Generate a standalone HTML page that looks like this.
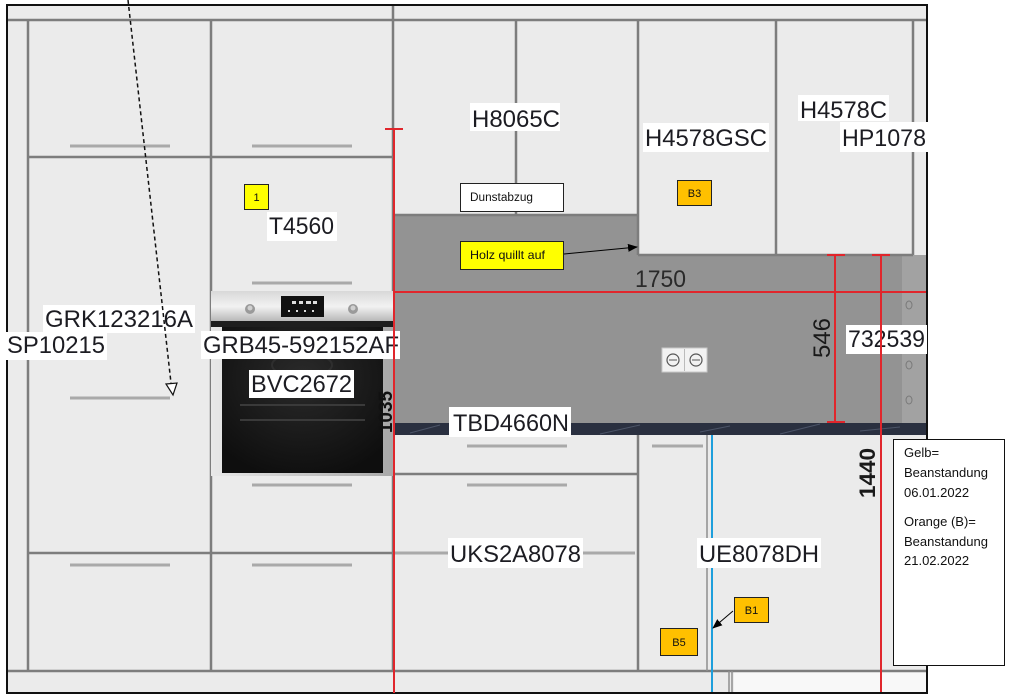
<!DOCTYPE html>
<html><head><meta charset="utf-8"><style>
html,body{margin:0;padding:0;background:#fff;width:1014px;height:698px;overflow:hidden}
svg{display:block}
.m{font-family:"Liberation Sans",Arial,sans-serif;font-size:24px;fill:#1c1c22}
.s{font-family:"Liberation Sans",Arial,sans-serif;fill:#111}
</style></head><body>
<svg width="1014" height="698" viewBox="0 0 1014 698" xmlns="http://www.w3.org/2000/svg">
<defs>
<linearGradient id="steel" x1="0" y1="0" x2="0" y2="1">
<stop offset="0" stop-color="#d8d8d8"/><stop offset="0.5" stop-color="#f2f2f2"/><stop offset="1" stop-color="#b4b4b4"/></linearGradient>
<linearGradient id="steelh" x1="0" y1="0" x2="1" y2="0">
<stop offset="0" stop-color="#e8e8e8"/><stop offset="0.5" stop-color="#c8c8c8"/><stop offset="1" stop-color="#a8a8a8"/></linearGradient>
<radialGradient id="door" cx="0.5" cy="0.35" r="0.7">
<stop offset="0" stop-color="#2a2a2a"/><stop offset="1" stop-color="#0e0e0e"/></radialGradient>
<marker id="ah" markerWidth="10" markerHeight="8" refX="9" refY="4" orient="auto" markerUnits="userSpaceOnUse">
<path d="M0,0 L10,4 L0,8 z" fill="#000"/></marker>
</defs>
<rect width="1014" height="698" fill="#fff"/>
<!-- cabinet body -->
<rect x="7" y="5" width="920" height="688" fill="#ebebeb"/>
<!-- backsplash -->
<rect x="394" y="215" width="244" height="208" fill="#939393"/>
<rect x="638" y="255" width="265" height="168" fill="#939393"/>
<rect x="902" y="255" width="25" height="168" fill="#a2a2a2"/>
<g fill="none" stroke="#7a7a7a" stroke-width="1">
<ellipse cx="909" cy="305" rx="3" ry="4"/><ellipse cx="909" cy="365" rx="3" ry="4"/><ellipse cx="909" cy="400" rx="3" ry="4"/>
</g>
<!-- countertop -->
<rect x="394" y="423" width="533" height="12" fill="#2a3040"/>
<g stroke="#5a6478" stroke-width="1" opacity="0.7">
<line x1="410" y1="433" x2="440" y2="425"/><line x1="480" y1="431" x2="520" y2="426"/><line x1="600" y1="434" x2="640" y2="425"/>
<line x1="700" y1="432" x2="730" y2="426"/><line x1="780" y1="434" x2="820" y2="424"/><line x1="860" y1="431" x2="900" y2="427"/>
</g>
<!-- plinth right white -->
<rect x="734" y="672" width="193" height="21" fill="#f8f8f8"/>
<!-- socket -->
<rect x="662" y="348" width="45" height="24" fill="#f2f2f2" stroke="#c8c8c8"/>
<line x1="684.5" y1="349" x2="684.5" y2="371" stroke="#bbb"/>
<g fill="none" stroke="#555" stroke-width="1.2"><circle cx="673" cy="360" r="6"/><circle cx="696" cy="360" r="6"/></g>
<g stroke="#555" stroke-width="1"><line x1="669" y1="360" x2="677" y2="360"/><line x1="692" y1="360" x2="700" y2="360"/></g>
<!-- structural lines -->
<g stroke="#7d7d7d" stroke-width="2.5" fill="none">
<line x1="7" y1="20" x2="927" y2="20"/>
<line x1="28" y1="20" x2="28" y2="671"/>
<line x1="211" y1="20" x2="211" y2="671"/>
<line x1="393" y1="5" x2="393" y2="671"/>
<line x1="28" y1="157" x2="393" y2="157"/>
<line x1="28" y1="553" x2="393" y2="553"/>
<line x1="7" y1="671" x2="927" y2="671"/>
<line x1="516" y1="20" x2="516" y2="215"/>
<line x1="638" y1="20" x2="638" y2="255"/>
<line x1="776" y1="20" x2="776" y2="255"/>
<line x1="913" y1="20" x2="913" y2="255"/>
<line x1="394" y1="215" x2="638" y2="215"/>
<line x1="638" y1="255" x2="913" y2="255"/>
<line x1="394" y1="474" x2="638" y2="474"/>
<line x1="638" y1="435" x2="638" y2="671"/>
</g>
<g stroke="#8e8e8e" stroke-width="1.5">
<line x1="707" y1="435" x2="707" y2="671"/>
<line x1="729" y1="671" x2="729" y2="693"/><line x1="732" y1="671" x2="732" y2="693"/>
</g>
<!-- handles -->
<g stroke="#a9a9a9" stroke-width="3">
<line x1="70" y1="146" x2="170" y2="146"/><line x1="252" y1="146" x2="352" y2="146"/>
<line x1="252" y1="283" x2="352" y2="283"/>
<line x1="70" y1="398" x2="170" y2="398"/>
<line x1="252" y1="485" x2="352" y2="485"/>
<line x1="70" y1="565" x2="170" y2="565"/><line x1="252" y1="565" x2="352" y2="565"/>
<line x1="467" y1="446" x2="567" y2="446"/><line x1="467" y1="485" x2="567" y2="485"/>
<line x1="394" y1="553" x2="635" y2="553"/>
<line x1="652" y1="446" x2="703" y2="446"/>
</g>
<!-- oven -->
<rect x="211" y="291" width="182" height="185" fill="url(#steelh)"/>
<rect x="211" y="291" width="182" height="31" fill="url(#steel)"/>
<circle cx="250" cy="309" r="5" fill="#9a9a9a"/><circle cx="250" cy="308" r="2.5" fill="#d0d0d0"/>
<circle cx="353" cy="309" r="5" fill="#9a9a9a"/><circle cx="353" cy="308" r="2.5" fill="#d0d0d0"/>
<rect x="281" y="296" width="43" height="21" fill="#111"/>
<g fill="#ddd"><rect x="292" y="301" width="4" height="3"/><rect x="299" y="301" width="4" height="3"/><rect x="306" y="301" width="5" height="3"/><rect x="313" y="301" width="4" height="3"/>
<rect x="288" y="310" width="2" height="2"/><rect x="296" y="310" width="2" height="2"/><rect x="304" y="310" width="2" height="2"/><rect x="312" y="310" width="2" height="2"/></g>
<rect x="211" y="321" width="182" height="6" fill="#1e1e1e"/>
<rect x="222" y="327" width="161" height="146" fill="url(#door)"/>
<g stroke="#3a3a3a" stroke-width="2" fill="none">
<line x1="240" y1="405" x2="365" y2="405"/><line x1="240" y1="420" x2="365" y2="420"/>
<ellipse cx="302" cy="365" rx="30" ry="12" stroke="#2e2e2e"/>
</g>
<!-- rotated small label near oven -->
<text class="s" font-size="19" font-weight="bold" transform="translate(392,412) rotate(-90)" text-anchor="middle">1035</text>
<!-- red dimension lines -->
<g stroke="#e0262c" stroke-width="2" fill="none">
<line x1="394" y1="292" x2="927" y2="292"/>
<line x1="927" y1="283" x2="927" y2="301"/>
<line x1="835" y1="255" x2="835" y2="422"/>
<line x1="827" y1="255" x2="845" y2="255"/><line x1="827" y1="422" x2="845" y2="422"/>
<line x1="881" y1="255" x2="881" y2="693"/>
<line x1="872" y1="255" x2="890" y2="255"/>
</g>
<!-- blue line -->
<line x1="712" y1="435" x2="712" y2="693" stroke="#1e9fdc" stroke-width="2"/>
<!-- frame -->
<rect x="7" y="5" width="920" height="688" fill="none" stroke="#111" stroke-width="2"/>
<!-- dimension texts -->
<text class="m" x="635" y="287" textLength="51" lengthAdjust="spacingAndGlyphs" style="fill:#2a2a2a">1750</text>
<text class="m" transform="translate(830,358) rotate(-90)" textLength="40" lengthAdjust="spacingAndGlyphs" style="fill:#1a1a1a">546</text>
<text class="m" font-weight="bold" transform="translate(875,498) rotate(-90)" textLength="50" lengthAdjust="spacingAndGlyphs" style="fill:#1a1a1a;font-size:22px">1440</text>
<!-- model labels -->
<g fill="#fff">
<rect x="470" y="103" width="90" height="28"/>
<rect x="643" y="123" width="126" height="29"/>
<rect x="798" y="95" width="91" height="26"/>
<rect x="840" y="122" width="88" height="30"/>
<rect x="267" y="212" width="70" height="29"/>
<rect x="43" y="305" width="152" height="28"/>
<rect x="5" y="332" width="102" height="28"/>
<rect x="201" y="331" width="199" height="28"/>
<rect x="249" y="370" width="105" height="28"/>
<rect x="449" y="407" width="122" height="30"/>
<rect x="448" y="538" width="135" height="30"/>
<rect x="697" y="538" width="124" height="30"/>
<rect x="846" y="325" width="81" height="29"/>
</g>
<text class="m" x="472" y="127" textLength="88" lengthAdjust="spacingAndGlyphs">H8065C</text>
<text class="m" x="645" y="146" textLength="122" lengthAdjust="spacingAndGlyphs">H4578GSC</text>
<text class="m" x="800" y="118" textLength="87" lengthAdjust="spacingAndGlyphs">H4578C</text>
<text class="m" x="842" y="146" textLength="84" lengthAdjust="spacingAndGlyphs">HP1078</text>
<text class="m" x="269" y="234" textLength="65" lengthAdjust="spacingAndGlyphs">T4560</text>
<text class="m" x="45" y="327" textLength="148" lengthAdjust="spacingAndGlyphs">GRK123216A</text>
<text class="m" x="7" y="353" textLength="98" lengthAdjust="spacingAndGlyphs">SP10215</text>
<text class="m" x="203" y="353" textLength="196" lengthAdjust="spacingAndGlyphs">GRB45-592152AF</text>
<text class="m" x="251" y="392" textLength="101" lengthAdjust="spacingAndGlyphs">BVC2672</text>
<text class="m" x="453" y="431" textLength="116" lengthAdjust="spacingAndGlyphs">TBD4660N</text>
<text class="m" x="450" y="562" textLength="131" lengthAdjust="spacingAndGlyphs">UKS2A8078</text>
<text class="m" x="699" y="562" textLength="120" lengthAdjust="spacingAndGlyphs">UE8078DH</text>
<text class="m" x="848" y="347" textLength="77" lengthAdjust="spacingAndGlyphs">732539</text>
<!-- red lines drawn over labels -->
<g stroke="#e0262c" stroke-width="2" fill="none">
<line x1="394" y1="129" x2="394" y2="693"/>
<line x1="385" y1="129" x2="403" y2="129"/>
<line x1="881" y1="325" x2="881" y2="354"/>
</g>
<!-- dashed arrow -->
<line x1="128" y1="0" x2="171" y2="383" stroke="#111" stroke-width="1.5" stroke-dasharray="4,3"/>
<path d="M166,384 L177,383 L173,395 z" fill="#fff" stroke="#111" stroke-width="1.2"/>
<!-- callouts -->
<rect x="244.5" y="184.5" width="24" height="25" fill="#ffff00" stroke="#222"/>
<text class="s" x="256.5" y="201" font-size="11" text-anchor="middle">1</text>
<rect x="460.5" y="183.5" width="103" height="28" fill="#fff" stroke="#222"/>
<text class="s" x="470" y="201" font-size="11.5" textLength="63" lengthAdjust="spacingAndGlyphs">Dunstabzug</text>
<rect x="460.5" y="241.5" width="103" height="28" fill="#ffff00" stroke="#222"/>
<text class="s" x="470" y="259" font-size="12" textLength="75" lengthAdjust="spacingAndGlyphs">Holz quillt auf</text>
<line x1="564" y1="254" x2="637" y2="247" stroke="#000" stroke-width="1" marker-end="url(#ah)"/>
<rect x="677.5" y="180.5" width="34" height="25" fill="#ffc000" stroke="#222"/>
<text class="s" x="694.5" y="197" font-size="11" text-anchor="middle">B3</text>
<rect x="734.5" y="597.5" width="34" height="25" fill="#ffc000" stroke="#222"/>
<text class="s" x="751.5" y="614" font-size="11" text-anchor="middle">B1</text>
<line x1="733" y1="611" x2="713" y2="628" stroke="#000" stroke-width="1" marker-end="url(#ah)"/>
<rect x="660.5" y="628.5" width="37" height="27" fill="#ffc000" stroke="#222"/>
<text class="s" x="679" y="646" font-size="11" text-anchor="middle">B5</text>
<!-- legend -->
<rect x="893.5" y="439.5" width="111" height="226" fill="#fff" stroke="#111"/>
<g class="s" font-size="13">
<text x="904" y="457">Gelb=</text>
<text x="904" y="477" textLength="84" lengthAdjust="spacingAndGlyphs">Beanstandung</text>
<text x="904" y="497">06.01.2022</text>
<text x="904" y="526">Orange (B)=</text>
<text x="904" y="546" textLength="84" lengthAdjust="spacingAndGlyphs">Beanstandung</text>
<text x="904" y="565">21.02.2022</text>
</g>
</svg>
</body></html>
